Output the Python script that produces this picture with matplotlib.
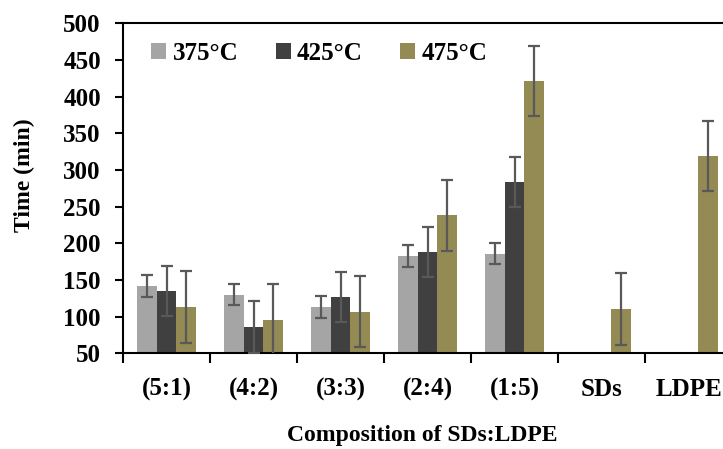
import numpy as np
import matplotlib
matplotlib.use("Agg")
import matplotlib.pyplot as plt

categories = ['(5:1)', '(4:2)', '(3:3)', '(2:4)', '(1:5)', 'SDs', 'LDPE']
series_labels = ['375°C', '425°C', '475°C']
t375 = [142, 130, 113, 183, 186, np.nan, np.nan]
e375 = [15, 14, 15, 15, 14, np.nan, np.nan]
t425 = [135, 86, 127, 188, 284, np.nan, np.nan]
e425 = [34, 35, 34, 34, 34, np.nan, np.nan]
t475 = [113, 96, 107, 238, 421, 111, 319]
e475 = [49, 49, 49, 48, 48, 49, 48]
yticks = [50, 100, 150, 200, 250, 300, 350, 400, 450, 500]

plt.rcParams['font.family'] = ['Liberation Serif', 'DejaVu Serif']
plt.rcParams['font.weight'] = 'bold'

fig = plt.figure(figsize=(7.23, 4.49), dpi=100)
ax = fig.add_axes([123/723, 1-353.3/449, (732-123)/723, (353.3-23.3)/449])

colors = ['#A5A5A5', '#404040', '#948A54']
x = np.arange(len(categories))
w = 0.224
vals = [t375, t425, t475]
errs = [e375, e425, e475]
for i, (v, e, c, lab) in enumerate(zip(vals, errs, colors, series_labels)):
    ax.bar(x + (i-1)*w, v, width=w, color=c, label=lab, zorder=2)
    ax.errorbar(x + (i-1)*w, v, yerr=e, fmt='none', ecolor='#595959',
                elinewidth=1.6, capsize=4.5, capthick=1.6, zorder=3)

ax.set_xlim(-0.5, len(categories)-0.5)
ax.set_ylim(50, 500)
ax.set_yticks(yticks)
ax.set_xticks(x)
ax.set_xticklabels(categories)
ax.set_xticks(np.arange(-0.5, len(categories), 1.0), minor=True)
ax.tick_params(axis='x', which='major', length=0, pad=18, labelsize=18)
ax.tick_params(axis='x', which='minor', length=7, width=1.5, direction='out')
ax.tick_params(axis='y', length=6, width=1.5, direction='out', labelsize=18, pad=10)
for s in ['left', 'bottom', 'top']:
    ax.spines[s].set_linewidth(1.5)
ax.spines['right'].set_visible(False)

ax.set_ylabel('Time (min)', fontsize=17, fontweight='bold')
ax.yaxis.set_label_coords(-0.145, 0.54)
fig.text(422/723, 1-436/449, 'Composition of SDs:LDPE', ha='center', va='center',
         fontsize=17, fontweight='bold')

leg = ax.legend(loc='upper left', bbox_to_anchor=(0.03, 0.975), ncol=3, frameon=False,
                fontsize=18, handlelength=0.6, handleheight=0.6, handletextpad=0.25,
                columnspacing=1.5, borderaxespad=0)

fig.savefig('out.png', dpi=100)
